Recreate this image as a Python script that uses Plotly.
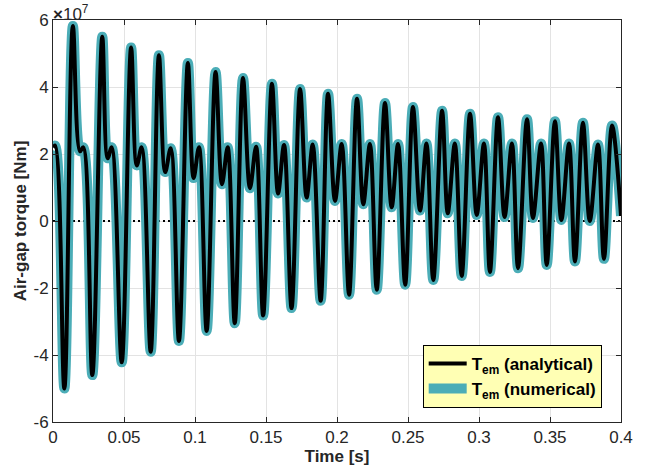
import plotly.graph_objects as go

# ---- data (torque values in units of 1e7 Nm) ----
SCALE = 1e7

start_t = [0.0, 0.0015]
start_v = [2.20, 2.25]

trough_t = [0.0080, 0.0277, 0.0484, 0.0688, 0.0887, 0.1082, 0.1280, 0.1480, 0.1680, 0.1885,
            0.2085, 0.2280, 0.2480, 0.2678, 0.2878, 0.3077, 0.3275, 0.3477, 0.3676, 0.3880]
trough_v = [-5.00, -4.60, -4.22, -3.90, -3.58, -3.28, -3.05, -2.82, -2.60, -2.38,
            -2.20, -2.05, -1.90, -1.76, -1.64, -1.52, -1.41, -1.31, -1.21, -1.13]

peak_t = [0.0140, 0.0347, 0.0550, 0.0746, 0.0950, 0.1145, 0.1338, 0.1542, 0.1740, 0.1937,
          0.2141, 0.2338, 0.2535, 0.2740, 0.2937, 0.3134, 0.3338, 0.3535, 0.3732, 0.3937]
peak_v = [5.82, 5.50, 5.18, 4.95, 4.72, 4.45, 4.27, 4.10, 3.94, 3.80,
          3.65, 3.52, 3.40, 3.29, 3.20, 3.10, 3.04, 2.98, 2.93, 2.85]

dip_t = [0.0190, 0.0385, 0.0590, 0.0790, 0.0990, 0.1190, 0.1387, 0.1585, 0.1786, 0.1986,
         0.2185, 0.2385, 0.2585, 0.2780, 0.2984, 0.3180, 0.3380, 0.3580, 0.3780]
dip_v = [2.08, 1.87, 1.66, 1.46, 1.28, 1.10, 0.98, 0.82, 0.70, 0.60,
         0.50, 0.41, 0.31, 0.23, 0.18, 0.12, 0.09, 0.03, 0.00]

bump_t = [0.0213, 0.0413, 0.0624, 0.0829, 0.1028, 0.1230, 0.1430, 0.1627, 0.1829, 0.2033,
          0.2232, 0.2430, 0.2630, 0.2830, 0.3035, 0.3232, 0.3437, 0.3634, 0.3838]
bump_v = [2.20, 2.20, 2.20, 2.17, 2.20, 2.20, 2.22, 2.27, 2.28, 2.30,
          2.30, 2.30, 2.31, 2.31, 2.31, 2.31, 2.31, 2.31, 2.28]

end_t = [0.4]
end_v = [0.15]

x_ticks = [0, 0.05, 0.1, 0.15, 0.2, 0.25, 0.3, 0.35, 0.4]
x_tick_labels = ["0", "0.05", "0.1", "0.15", "0.2", "0.25", "0.3", "0.35", "0.4"]
y_ticks = [-6, -4, -2, 0, 2, 4, 6]
y_tick_labels = ["-6", "-4", "-2", "0", "2", "4", "6"]

# ---- assemble the series in time order ----
pts = sorted(zip(start_t + trough_t + peak_t + dip_t + bump_t + end_t,
                 start_v + trough_v + peak_v + dip_v + bump_v + end_v))
time_s = [p[0] for p in pts]
torque_analytical = [p[1] * SCALE for p in pts]
torque_numerical = list(torque_analytical)

TEAL = "#4BADB7"
AXC = "#262626"
FONT = "Liberation Sans, Arial, Helvetica, sans-serif"
FS = 17

fig = go.Figure()
fig.add_trace(go.Scatter(x=[0, 0.4], y=[0, 0], mode="lines",
                         line=dict(color="black", width=2, dash="2px,3px"),
                         showlegend=False, hoverinfo="skip"))
fig.add_trace(go.Scatter(x=time_s, y=torque_numerical, mode="lines",
                         name="<b>T<sub>em</sub> (numerical)</b>",
                         line=dict(color=TEAL, width=10, shape="spline", smoothing=1.0),
                         legendrank=2))
fig.add_trace(go.Scatter(x=time_s, y=torque_analytical, mode="lines",
                         name="<b>T<sub>em</sub> (analytical)</b>",
                         line=dict(color="black", width=4, shape="spline", smoothing=1.0),
                         legendrank=1))

axis_common = dict(showline=True, linecolor=AXC, linewidth=1, mirror="ticks",
                   ticks="inside", ticklen=5, tickcolor=AXC, tickwidth=1,
                   showgrid=True, gridcolor="#E3E3E3", gridwidth=1, zeroline=False,
                   automargin=False,
                   tickfont=dict(family=FONT, size=FS, color=AXC))

fig.update_xaxes(range=[0, 0.4], tickvals=x_ticks, ticktext=x_tick_labels,
                 title=dict(text="<b>Time [s]</b>", font=dict(family=FONT, size=FS, color=AXC),
                            standoff=0),
                 **axis_common)
fig.update_yaxes(range=[-6 * SCALE, 6 * SCALE], tickvals=[v * SCALE for v in y_ticks],
                 ticktext=y_tick_labels,
                 title=dict(text="<b>Air-gap torque [Nm]</b>",
                            font=dict(family=FONT, size=FS, color=AXC), standoff=2),
                 **axis_common)

fig.add_annotation(text="<b>×</b>10<sup>7</sup>", xref="paper", yref="paper",
                   x=0, y=1, xanchor="left", yanchor="bottom", showarrow=False,
                   font=dict(family=FONT, size=FS, color=AXC), yshift=-6, xshift=-2)

fig.update_layout(
    width=652, height=467,
    margin=dict(l=53, r=31, t=20, b=45, autoexpand=False),
    paper_bgcolor="white", plot_bgcolor="white",
    font=dict(family=FONT, size=FS, color=AXC),
    legend=dict(x=0.966, y=0.035, xanchor="right", yanchor="bottom",
                bgcolor="#FFFFB4", bordercolor="black", borderwidth=1,
                font=dict(family=FONT, size=FS, color="black"),
                tracegroupgap=0, itemwidth=38),
    showlegend=True,
)

fig.write_html("out.html", config={"displayModeBar": False},
               post_script="document.body.style.margin='0px';")
